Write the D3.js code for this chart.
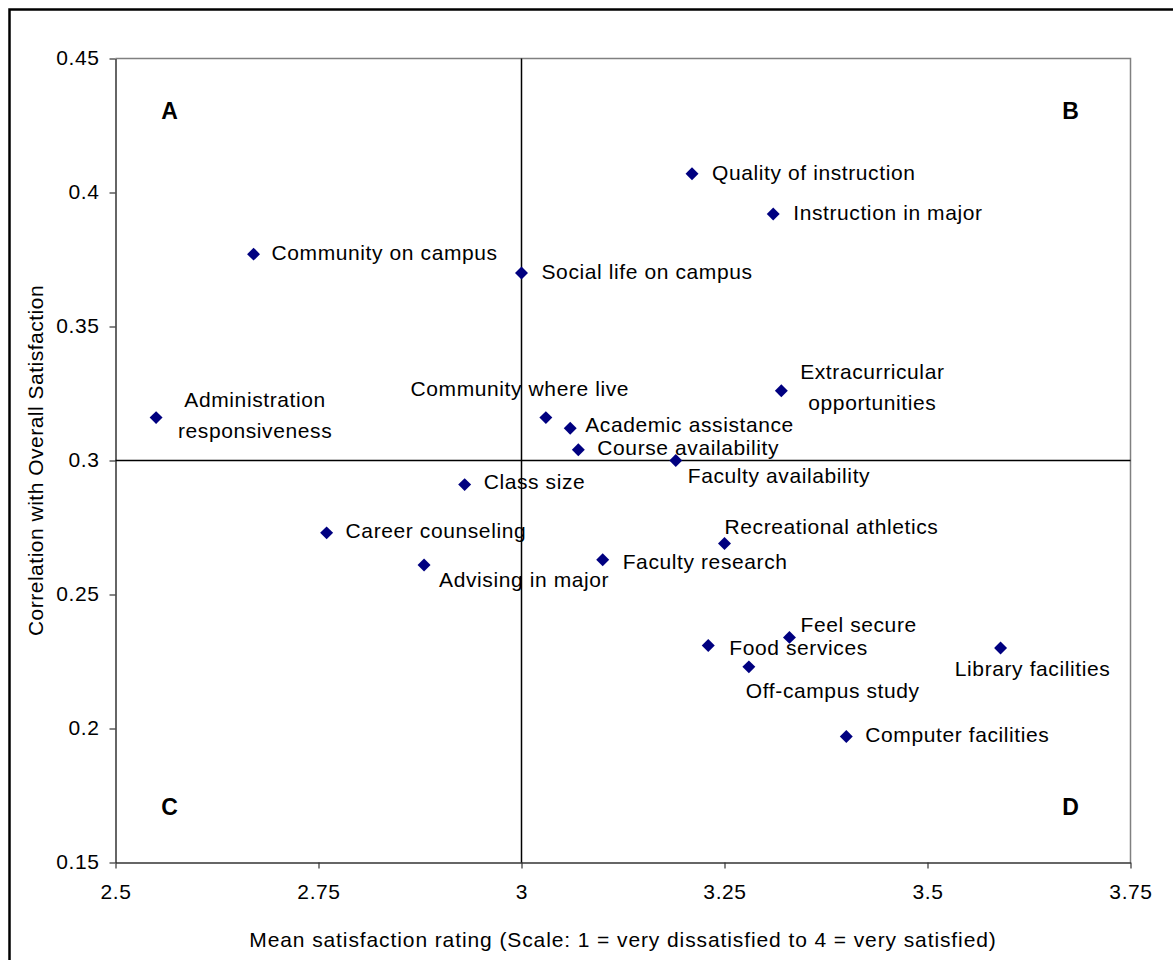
<!DOCTYPE html>
<html><head><meta charset="utf-8">
<script src="https://cdn.jsdelivr.net/npm/d3@7"></script>
<style>
body{margin:0;background:#fff;}
text{font-family:"Liberation Sans",Arial,sans-serif;fill:#000;}
</style></head>
<body><svg id="chart" width="1173" height="960"></svg>
<script>
const items = ["Quality of instruction","Instruction in major","Community on campus","Social life on campus",
  "Extracurricular\nopportunities","Administration\nresponsiveness","Community where live","Academic assistance",
  "Course availability","Faculty availability","Class size","Career counseling","Advising in major",
  "Faculty research","Recreational athletics","Feel secure","Food services","Off-campus study",
  "Library facilities","Computer facilities"];
const meanRating = [3.21,3.31,2.67,3.00,3.32,2.55,3.03,3.06,3.07,3.19,2.93,2.76,2.88,3.10,3.25,3.33,3.23,3.28,3.59,3.40];
const correlation = [0.407,0.392,0.377,0.370,0.326,0.316,0.316,0.312,0.304,0.300,0.291,0.273,0.261,0.263,0.269,0.234,0.231,0.223,0.230,0.197];
const xTicks = [2.5,2.75,3,3.25,3.5,3.75];
const yTicks = [0.15,0.2,0.25,0.3,0.35,0.4,0.45];
const quadrantLabels = ["A","B","C","D"];
const xTitle = "Mean satisfaction rating (Scale: 1 = very dissatisfied to 4 = very satisfied)";
const yTitle = "Correlation with Overall Satisfaction";
const refX = 3.0, refY = 0.30;

// label layout (pixel offsets relative to each point)
const labelLayout = [
  {a:"start",dx:20,dy:0},{a:"start",dx:20,dy:0},{a:"start",dx:18,dy:0},{a:"start",dx:20,dy:0},
  {a:"middle",dx:91,dy:-18},{a:"middle",dx:99,dy:-17},{a:"middle",dx:-26,dy:-28},{a:"start",dx:15,dy:-2},
  {a:"start",dx:19,dy:-1},{a:"start",dx:12,dy:16},{a:"start",dx:19,dy:-2},{a:"start",dx:19,dy:-1},
  {a:"start",dx:15,dy:16},{a:"start",dx:20,dy:3},{a:"start",dx:0,dy:-16},{a:"start",dx:11,dy:-11},
  {a:"start",dx:21,dy:4},{a:"start",dx:-3,dy:25},{a:"middle",dx:32,dy:22},{a:"start",dx:19,dy:-1}
];

const svg = d3.select("#chart");
const L=115.5, R=1130.5, T=58.5, B=862.5;
const x = d3.scaleLinear().domain([2.5,3.75]).range([L,R]);
const y = d3.scaleLinear().domain([0.15,0.45]).range([B,T]);

// outer border
svg.append("rect").attr("x",9.5).attr("y",9.5).attr("width",1200).attr("height",1000)
  .attr("fill","none").attr("stroke","#000").attr("stroke-width",2.5);

// plot frame top/right (gray)
svg.append("path").attr("d",`M${L},${T}H${R}V${B}`).attr("fill","none").attr("stroke","#808080").attr("stroke-width",1.5);

const fs = 21, ls = "0.6px";
// axes
const xAxis = svg.append("g").attr("transform",`translate(0,${B})`)
  .call(d3.axisBottom(x).tickValues(xTicks).tickFormat(d3.format("")).tickSize(6).tickSizeOuter(0));
const yAxis = svg.append("g").attr("transform",`translate(${L},0)`)
  .call(d3.axisLeft(y).tickValues(yTicks).tickFormat(d3.format("")).tickSize(6).tickSizeOuter(0));
[xAxis,yAxis].forEach(g=>{
  g.select(".domain").attr("stroke","#333").attr("stroke-width",1.5);
  g.selectAll(".tick line").attr("stroke","#333").attr("stroke-width",1.2);
  g.selectAll(".tick text").attr("font-size",fs).attr("letter-spacing",ls)
    .attr("font-family","Liberation Sans, Arial, sans-serif").attr("fill","#000");
});
xAxis.selectAll(".tick text").attr("dy",null).attr("y",31).attr("dominant-baseline","middle");
yAxis.selectAll(".tick text").attr("dy",null).attr("x",-16).attr("dominant-baseline","middle");

// reference lines
svg.append("line").attr("x1",x(refX)).attr("x2",x(refX)).attr("y1",T).attr("y2",B).attr("stroke","#000").attr("stroke-width",1.5);
svg.append("line").attr("x1",L).attr("x2",R).attr("y1",y(refY)).attr("y2",y(refY)).attr("stroke","#000").attr("stroke-width",1.5);

// quadrant letters
const qPos = [[L+54,T+54],[R-60,T+54],[L+54,B-54],[R-60,B-54]];
svg.selectAll("text.q").data(quadrantLabels).join("text").attr("class","q")
  .attr("x",(d,i)=>qPos[i][0]).attr("y",(d,i)=>qPos[i][1])
  .attr("text-anchor","middle").attr("dominant-baseline","middle")
  .attr("font-size",23).attr("font-weight","bold").text(d=>d);

// points
const data = items.map((n,i)=>({name:n,x:meanRating[i],y:correlation[i],lay:labelLayout[i]}));
svg.selectAll("path.pt").data(data).join("path").attr("class","pt")
  .attr("d",d3.symbol().type(d3.symbolSquare).size(84))
  .attr("transform",d=>`translate(${x(d.x)},${y(d.y)}) rotate(45)`)
  .attr("fill","#000080");

// labels
const lab = svg.selectAll("text.lab").data(data).join("text").attr("class","lab")
  .attr("font-size",fs).attr("letter-spacing",ls).attr("text-anchor",d=>d.lay.a).attr("dominant-baseline","middle");
lab.each(function(d){
  const lines = d.name.split("\n");
  const t = d3.select(this);
  lines.forEach((ln,k)=>{
    t.append("tspan").attr("x",x(d.x)+d.lay.dx).attr("y",y(d.y)+d.lay.dy+k*31).text(ln);
  });
});

// axis titles
svg.append("text").attr("x",623).attr("y",941).attr("text-anchor","middle").attr("dominant-baseline","middle")
  .attr("font-size",fs).attr("letter-spacing","0.9px").text(xTitle);
svg.append("text").attr("transform",`translate(37,${(T+B)/2}) rotate(-90)`).attr("text-anchor","middle")
  .attr("dominant-baseline","middle").attr("font-size",fs).attr("letter-spacing","0.5px").text(yTitle);
</script></body></html>
